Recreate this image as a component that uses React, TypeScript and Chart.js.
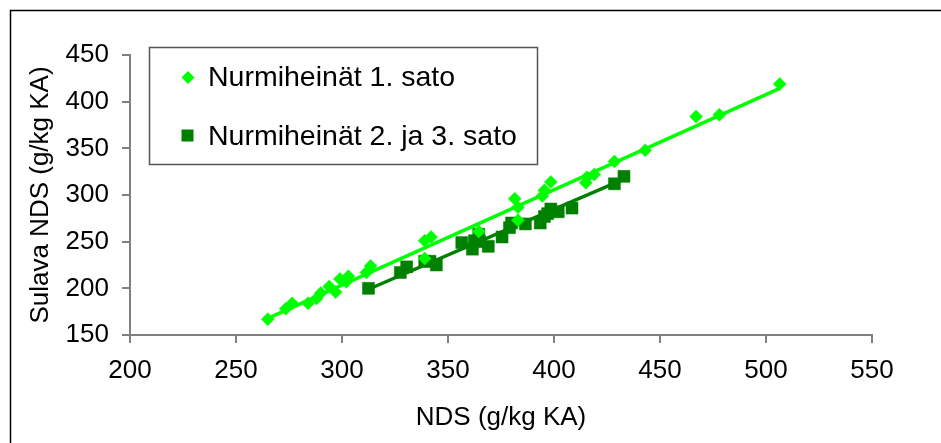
import React, { useEffect, useRef } from 'react';
import { Chart, registerables } from 'chart.js';

Chart.register(...registerables);

const seriesFirstName = 'Nurmiheinät 1. sato';
const seriesLaterName = 'Nurmiheinät 2. ja 3. sato';
const xAxisTitle = 'NDS (g/kg KA)';
const yAxisTitle = 'Sulava NDS (g/kg KA)';

const ndsFirst = [265, 273.5, 276.5, 284, 288, 290, 294, 297, 299, 302, 303, 311.5, 313.5, 339, 342, 339, 364.5, 381.5, 383, 383, 394.5, 395.5, 398.5, 415, 415.5, 419, 428.5, 443, 467, 478, 506.5];
const solubleFirst = [167, 178, 184, 184, 189, 195, 202, 196, 210, 207, 213, 217, 224, 251, 255, 232, 261, 296, 287, 273, 299, 305, 314, 313, 319, 322, 336, 348, 384, 386, 419];

const ndsLater = [312.5, 327.5, 330.5, 339, 341.5, 344.5, 356.5, 361.5, 362.5, 364.5, 365, 369, 375.5, 379, 380, 386.5, 393.5, 395.5, 397, 398.5, 402, 408.5, 428.5, 433];
const solubleLater = [200, 217, 223, 229, 229, 225, 249, 242, 251, 258, 250, 245, 255, 265, 270, 269, 270, 277, 280, 285, 282, 286, 312, 320];

const trendFirstX = [265, 506.5];
const trendFirstY = [167.9, 414.3];
const trendLaterX = [312.5, 433];
const trendLaterY = [199, 317.1];

const xMin = 200;
const xMax = 550;
const yMin = 150;
const yMax = 450;
const tickStep = 50;

const LIGHT = '#00FF00';
const DARK = '#008000';
const FONT = "'Liberation Sans', Arial, sans-serif";

const toPoints = (xs: number[], ys: number[]) => xs.map((x, i) => ({ x, y: ys[i] }));

const framePlugin = {
  id: 'frameAndLegend',
  afterDraw(chart: any) {
    const ctx = chart.ctx as CanvasRenderingContext2D;
    ctx.save();
    // outer frame
    ctx.strokeStyle = '#000000';
    ctx.lineWidth = 1.5;
    ctx.strokeRect(10.5, 10.5, 1200, 800);
    // legend box
    ctx.fillStyle = '#ffffff';
    ctx.fillRect(149, 47, 389, 118);
    ctx.strokeStyle = '#555555';
    ctx.lineWidth = 1.5;
    ctx.strokeRect(149.5, 47.5, 388, 117);
    // diamond marker
    ctx.fillStyle = LIGHT;
    ctx.beginPath();
    ctx.moveTo(188, 71);
    ctx.lineTo(194.5, 77.5);
    ctx.lineTo(188, 84);
    ctx.lineTo(181.5, 77.5);
    ctx.closePath();
    ctx.fill();
    // square marker
    ctx.fillStyle = DARK;
    ctx.fillRect(181.5, 129.5, 12, 12);
    // texts
    ctx.fillStyle = '#000000';
    ctx.font = `28.5px ${FONT}`;
    ctx.textBaseline = 'alphabetic';
    ctx.textAlign = 'left';
    ctx.fillText(chart.data.datasets[0].label, 208, 86);
    ctx.fillText(chart.data.datasets[1].label, 208, 145);
    ctx.restore();
  },
};

export default function App() {
  const canvasRef = useRef<HTMLCanvasElement | null>(null);

  useEffect(() => {
    document.body.style.margin = '0';
    const canvas = canvasRef.current;
    if (!canvas) return;
    const chart = new Chart(canvas, {
      type: 'scatter',
      data: {
        datasets: [
          {
            label: seriesFirstName,
            data: toPoints(ndsFirst, solubleFirst),
            pointStyle: 'rectRot',
            pointRadius: 6.5,
            pointBackgroundColor: LIGHT,
            pointBorderColor: LIGHT,
            pointBorderWidth: 0.5,
            backgroundColor: LIGHT,
            borderColor: LIGHT,
          },
          {
            label: seriesLaterName,
            data: toPoints(ndsLater, solubleLater),
            pointStyle: 'rect',
            pointRadius: 8.5,
            pointBackgroundColor: DARK,
            pointBorderColor: DARK,
            pointBorderWidth: 0.5,
            backgroundColor: DARK,
            borderColor: DARK,
          },
          {
            label: 'trend1',
            data: toPoints(trendFirstX, trendFirstY),
            showLine: true,
            pointRadius: 0,
            borderColor: LIGHT,
            borderWidth: 3.5,
          },
          {
            label: 'trend2',
            data: toPoints(trendLaterX, trendLaterY),
            showLine: true,
            pointRadius: 0,
            borderColor: DARK,
            borderWidth: 3.5,
          },
        ],
      },
      options: {
        animation: false,
        responsive: false,
        maintainAspectRatio: false,
        layout: { padding: { left: 0, top: 55, right: 69, bottom: 0 } },
        plugins: {
          legend: { display: false },
          tooltip: { enabled: false },
        },
        scales: {
          x: {
            type: 'linear',
            min: xMin,
            max: xMax,
            afterFit: (s: any) => { s.height = 108; },
            ticks: {
              stepSize: tickStep,
              padding: 12,
              color: '#000000',
              font: { family: FONT, size: 26 },
            },
            grid: { drawOnChartArea: false, drawTicks: true, tickLength: 8, color: '#808080', lineWidth: 2 },
            border: { display: true, color: '#808080', width: 2 },
            title: {
              display: true,
              text: xAxisTitle,
              color: '#000000',
              font: { family: FONT, size: 26 },
              padding: { top: 0, bottom: 10 },
            },
          },
          y: {
            type: 'linear',
            min: yMin,
            max: yMax,
            afterFit: (s: any) => { s.width = 130; },
            ticks: {
              stepSize: tickStep,
              padding: 13,
              color: '#000000',
              font: { family: FONT, size: 26 },
            },
            grid: { drawOnChartArea: false, drawTicks: true, tickLength: 8, color: '#808080', lineWidth: 2 },
            border: { display: true, color: '#808080', width: 2 },
            title: {
              display: true,
              text: yAxisTitle,
              color: '#000000',
              font: { family: FONT, size: 26 },
              padding: { top: 25, bottom: 0 },
            },
          },
        },
      },
      plugins: [framePlugin],
    });
    return () => chart.destroy();
  }, []);

  return (
    <div style={{ position: 'absolute', left: 0, top: 0, width: 941, height: 443, background: '#ffffff' }}>
      <canvas ref={canvasRef} width={941} height={443} style={{ width: 941, height: 443, display: 'block' }} />
    </div>
  );
}
